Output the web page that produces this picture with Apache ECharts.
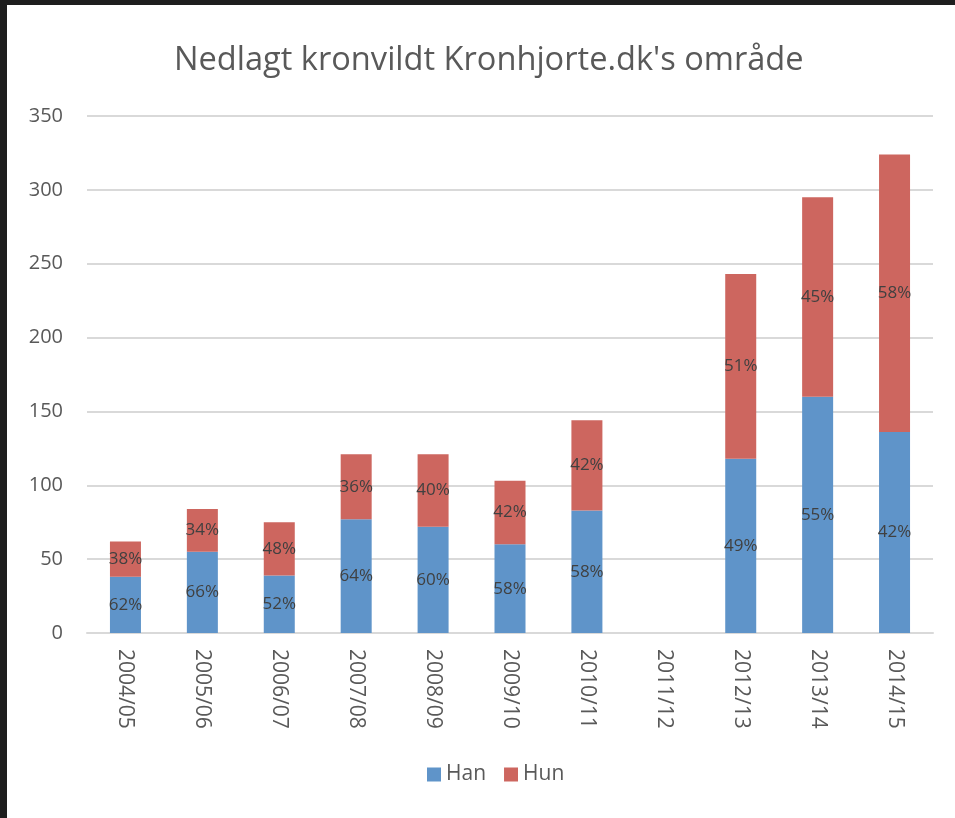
<!DOCTYPE html>
<html>
<head>
<meta charset="utf-8">
<script src="https://cdn.jsdelivr.net/npm/echarts@6/dist/echarts.min.js"></script>
<style>
  html, body { margin: 0; padding: 0; width: 955px; height: 818px; background: #1e1e1e; overflow: hidden; }
  #chart { position: absolute; left: 7px; top: 5px; width: 948px; height: 813px; background: #fff; }
</style>
</head>
<body>
<div id="chart"></div>
<script>
// data
var seasons = ['2004/05', '2005/06', '2006/07', '2007/08', '2008/09', '2009/10', '2010/11', '2011/12', '2012/13', '2013/14', '2014/15'];
var han = [38, 55, 39, 77, 72, 60, 83, null, 118, 160, 136];
var hun = [24, 29, 36, 44, 49, 43, 61, null, 125, 135, 188];
// percent labels as printed in the bars
var hanPct = ['62%', '66%', '52%', '64%', '60%', '58%', '58%', '', '49%', '55%', '42%'];
var hunPct = ['38%', '34%', '48%', '36%', '40%', '42%', '42%', '', '51%', '45%', '58%'];
var yTicks = [0, 50, 100, 150, 200, 250, 300, 350];

var chart = echarts.init(document.getElementById('chart'));

var font = '"Open Sans", sans-serif';

var option = {
  backgroundColor: '#fff',
  textStyle: { fontFamily: font },
  title: {
    text: "Nedlagt kronvildt Kronhjorte.dk's område",
    left: 162,
    top: 34,
    textStyle: { fontFamily: font, fontSize: 32.6, fontWeight: 'normal', color: '#595959' }
  },
  legend: {
    bottom: 28,
    left: 415,
    itemWidth: 14,
    itemHeight: 14,
    itemGap: 18,
    icon: 'rect',
    textStyle: { fontFamily: font, fontSize: 21, color: '#595959' }
  },
  grid: { left: 80, right: 22, top: 111, bottom: 185 },
  xAxis: {
    type: 'category',
    data: seasons,
    axisTick: { show: false },
    axisLine: { lineStyle: { color: '#d9d9d9', width: 2 } },
    axisLabel: { rotate: -90, fontSize: 21, color: '#595959', margin: 16, fontFamily: font }
  },
  yAxis: {
    type: 'value',
    min: yTicks[0],
    max: yTicks[yTicks.length - 1],
    interval: 50,
    axisLine: { show: false },
    axisTick: { show: false },
    splitLine: { lineStyle: { color: '#d9d9d9', width: 2 } },
    axisLabel: { fontSize: 20, color: '#595959', margin: 24, fontFamily: font }
  },
  series: [
    {
      name: 'Han',
      type: 'bar',
      stack: 'total',
      data: han,
      barWidth: 31,
      itemStyle: { color: '#5f94c9' },
      label: {
        show: true,
        position: 'inside',
        fontSize: 17,
        color: '#404040',
        fontFamily: font,
        formatter: function (p) { return hanPct[p.dataIndex]; }
      }
    },
    {
      name: 'Hun',
      type: 'bar',
      stack: 'total',
      data: hun,
      barWidth: 31,
      itemStyle: { color: '#cd665f' },
      label: {
        show: true,
        position: 'inside',
        fontSize: 17,
        color: '#404040',
        fontFamily: font,
        formatter: function (p) { return hunPct[p.dataIndex]; }
      }
    }
  ]
};

chart.setOption(option);
</script>
</body>
</html>
